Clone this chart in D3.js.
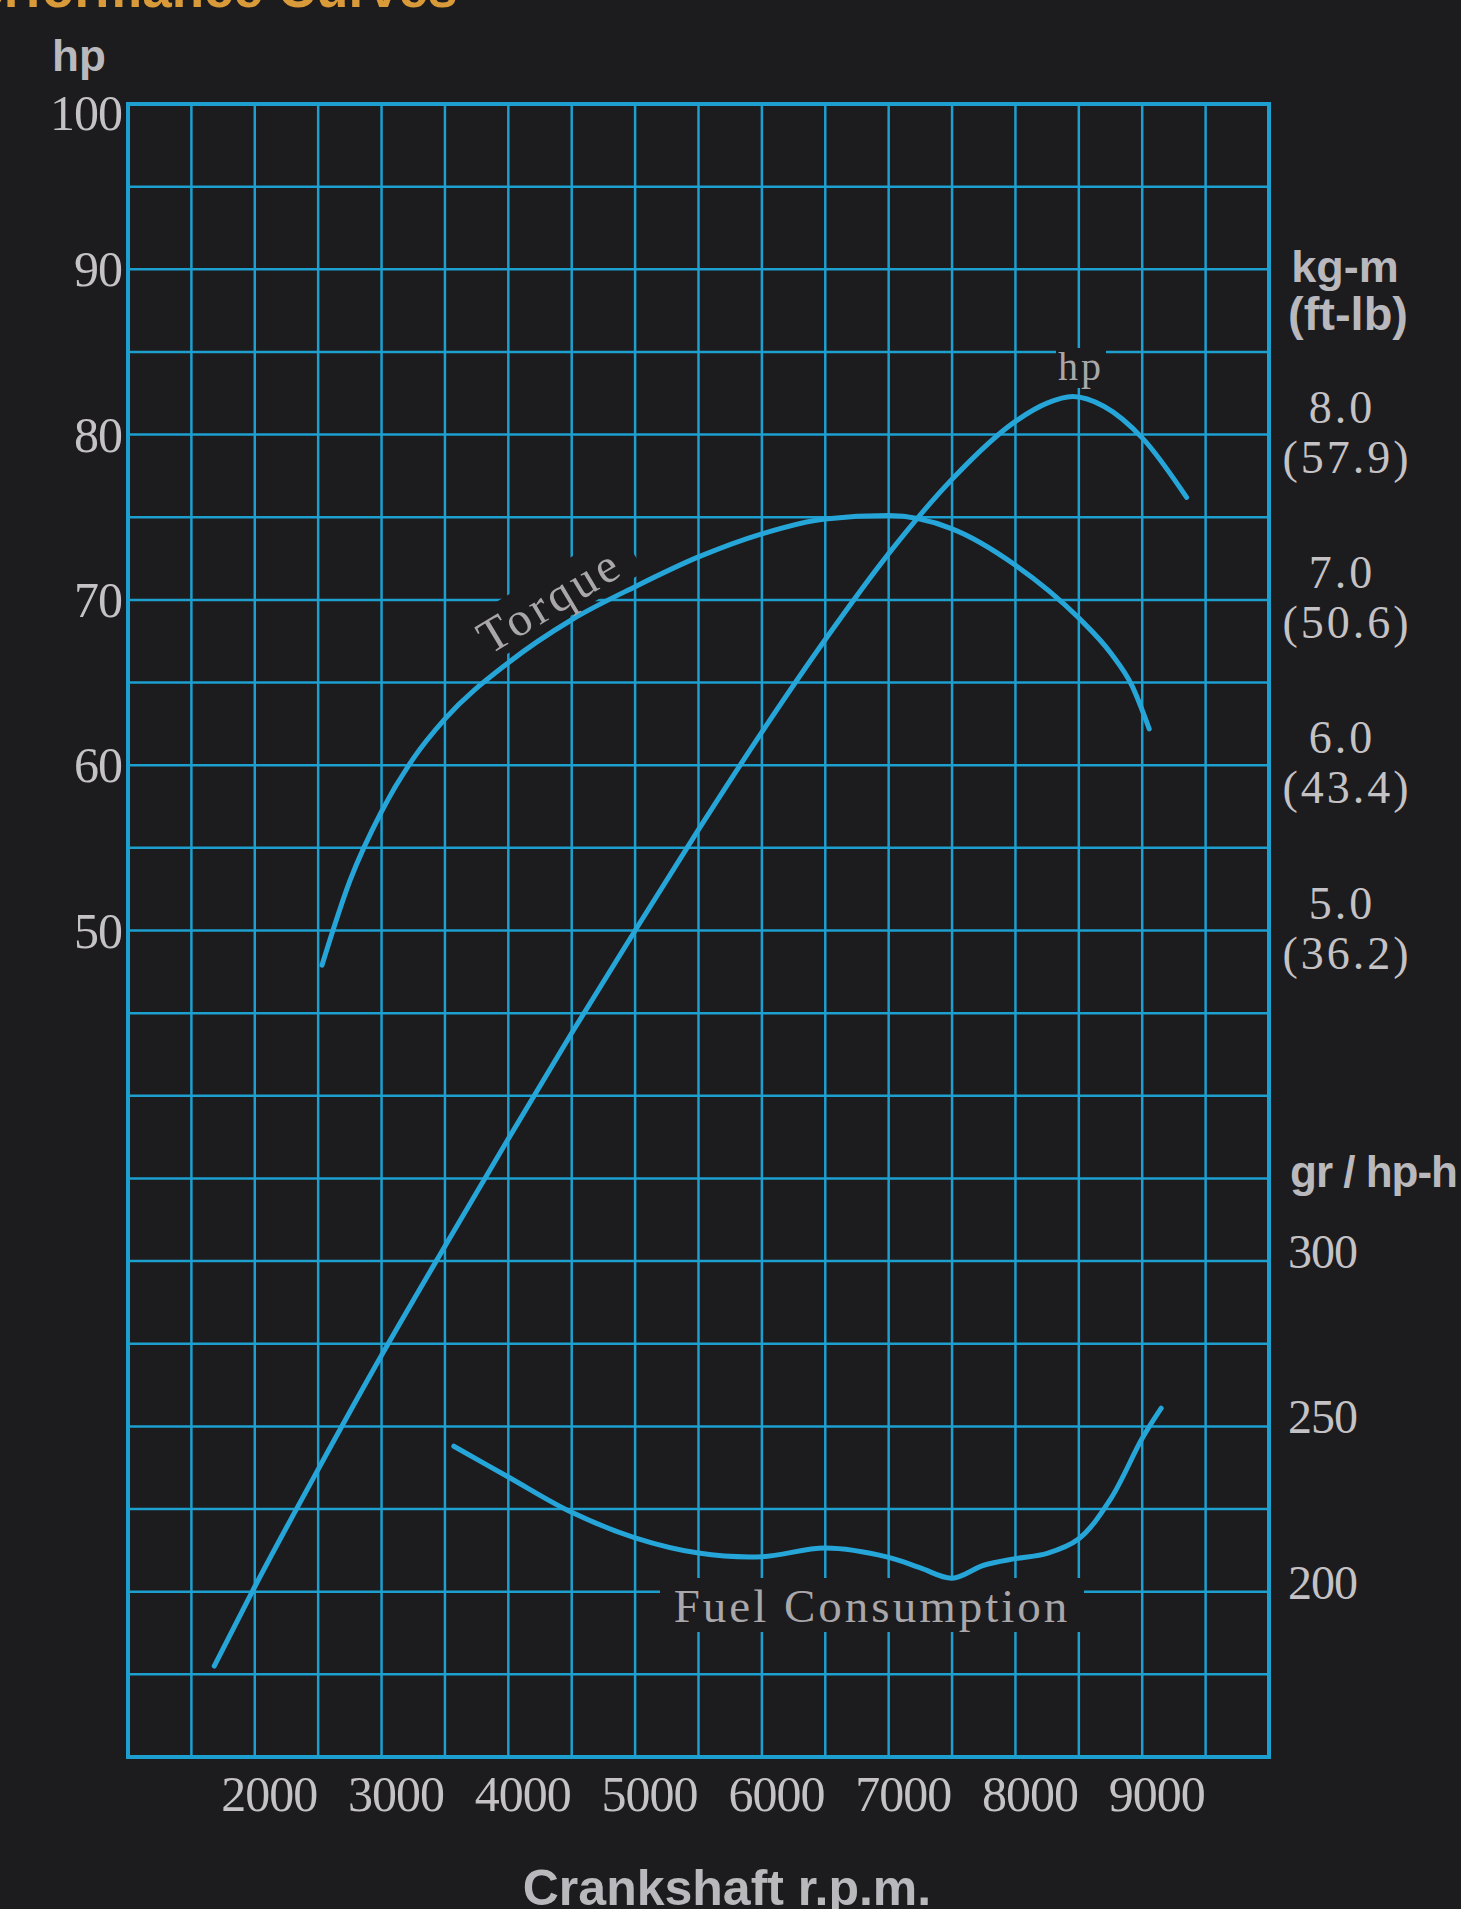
<!DOCTYPE html>
<html>
<head>
<meta charset="utf-8">
<script src="https://cdn.jsdelivr.net/npm/d3@7"></script>
<style>
  html, body { margin: 0; padding: 0; background: #1c1b1d; }
  svg { display: block; }
</style>
</head>
<body>
<div id="chart"></div>
<script>
// values
const rpmTicks = [2000, 3000, 4000, 5000, 6000, 7000, 8000, 9000];
const hpTicks = [50, 60, 70, 80, 90, 100];
const torqueTicks = [5, 6, 7, 8];
const torqueFtLb = ["36.2", "43.4", "50.6", "57.9"];
const fuelTicks = [200, 250, 300];

const hpRpm = [1680, 2000, 2500, 3000, 3500, 4000, 4500, 5000, 5500, 6000, 6500, 7000, 7500, 8000, 8250, 8450, 8700, 9000, 9350];
const hpVal = [5.5, 10.3, 17.4, 24.3, 30.9, 37.4, 43.8, 50.0, 56.1, 62.0, 67.6, 72.8, 77.3, 80.8, 81.9, 82.3, 81.7, 79.8, 76.2];

const torqueRpm = [2530, 2750, 3000, 3250, 3500, 4000, 4500, 5000, 5500, 6000, 6500, 7000, 7500, 8000, 8500, 8750, 8920, 9055];
const torqueVal = [4.79, 5.30, 5.72, 6.04, 6.28, 6.62, 6.88, 7.08, 7.26, 7.40, 7.49, 7.51, 7.43, 7.21, 6.89, 6.68, 6.48, 6.22];

const fuelRpm = [3570, 4000, 4500, 5000, 5500, 6000, 6500, 7000, 7250, 7500, 7750, 8000, 8250, 8500, 8750, 9000, 9150];
const fuelVal = [244, 234.7, 224, 216.3, 211.7, 210.6, 213.2, 210.4, 207.2, 204.1, 208.0, 210.0, 211.6, 216, 228, 246.4, 255.5];

const width = 1461, height = 1909;
const bg = "#1c1b1d", gridColor = "#1d9fcf", curveColor = "#26a6d8";
const textGrey = "#c4c2c5", labelGrey = "#a9a7aa";
const serif = "'Liberation Serif', 'DejaVu Serif', serif";
const sans = "'Liberation Sans', Arial, sans-serif";

var plot = { left: 128, right: 1269, top: 104, bottom: 1757 };

var svg = d3
  .select("#chart")
  .append("svg")
  .attr("width", width)
  .attr("height", height);

svg.append("rect").attr("width", width).attr("height", height).attr("fill", bg);

var x = d3.scaleLinear().domain([1000, 10000]).range([plot.left, plot.right]);
var yHp = d3.scaleLinear().domain([0, 100]).range([plot.bottom, plot.top]);
var yTorque = d3.scaleLinear().domain([0, 10]).range([plot.bottom, plot.top]);
var yFuel = d3.scaleLinear().domain([150, 650]).range([plot.bottom, plot.top]);

// grid
var grid = svg.append("g").attr("stroke", gridColor).attr("stroke-width", 2.5);
grid
  .selectAll("line.v")
  .data(d3.range(1000, 10001, 500))
  .enter()
  .append("line")
  .attr("class", "v")
  .attr("x1", (d) => x(d))
  .attr("x2", (d) => x(d))
  .attr("y1", plot.top)
  .attr("y2", plot.bottom);
grid
  .selectAll("line.h")
  .data(d3.range(0, 101, 5))
  .enter()
  .append("line")
  .attr("class", "h")
  .attr("x1", plot.left)
  .attr("x2", plot.right)
  .attr("y1", (d) => yHp(d))
  .attr("y2", (d) => yHp(d));
svg
  .append("rect")
  .attr("x", plot.left)
  .attr("y", plot.top)
  .attr("width", plot.right - plot.left)
  .attr("height", plot.bottom - plot.top)
  .attr("fill", "none")
  .attr("stroke", gridColor)
  .attr("stroke-width", 4);

// label masks over the grid
var torqueLabel = { x: 558, y: 614, angle: -31 };
svg
  .append("rect")
  .attr("x", -96)
  .attr("y", -42)
  .attr("width", 192)
  .attr("height", 50)
  .attr("fill", bg)
  .attr("transform", `translate(${torqueLabel.x},${torqueLabel.y}) rotate(${torqueLabel.angle})`);
svg.append("rect").attr("x", 660).attr("y", 1578).attr("width", 424).attr("height", 54).attr("fill", bg);
svg.append("rect").attr("x", 1056).attr("y", 348).attr("width", 50).attr("height", 40).attr("fill", bg);

// curves
var hpLine = d3.line().x((d, i) => x(hpRpm[i])).y((d) => yHp(d)).curve(d3.curveMonotoneX);
var torqueLine = d3.line().x((d, i) => x(torqueRpm[i])).y((d) => yTorque(d)).curve(d3.curveMonotoneX);
var fuelLine = d3.line().x((d, i) => x(fuelRpm[i])).y((d) => yFuel(d)).curve(d3.curveCatmullRom.alpha(0.5));

var curves = svg
  .append("g")
  .attr("fill", "none")
  .attr("stroke", curveColor)
  .attr("stroke-width", 5)
  .attr("stroke-linecap", "round")
  .attr("stroke-linejoin", "round");
curves.append("path").attr("d", hpLine(hpVal));
curves.append("path").attr("d", torqueLine(torqueVal));
curves.append("path").attr("d", fuelLine(fuelVal));

// curve labels
svg
  .append("text")
  .attr("transform", `translate(${torqueLabel.x},${torqueLabel.y}) rotate(${torqueLabel.angle})`)
  .attr("text-anchor", "middle")
  .attr("font-family", serif)
  .attr("font-size", 48)
  .attr("letter-spacing", 4)
  .attr("fill", labelGrey)
  .text("Torque");
svg
  .append("text")
  .attr("x", 872)
  .attr("y", 1622)
  .attr("text-anchor", "middle")
  .attr("font-family", serif)
  .attr("font-size", 47)
  .attr("letter-spacing", 3)
  .attr("fill", labelGrey)
  .text("Fuel Consumption");
svg
  .append("text")
  .attr("x", 1081)
  .attr("y", 380)
  .attr("text-anchor", "middle")
  .attr("font-family", serif)
  .attr("font-size", 40)
  .attr("letter-spacing", 3)
  .attr("fill", labelGrey)
  .text("hp");

// bottom axis
var xAxis = svg
  .append("g")
  .attr("transform", "translate(0," + plot.bottom + ")")
  .call(d3.axisBottom(x).tickValues(rpmTicks).tickFormat(d3.format("d")).tickSize(0).tickPadding(18));
xAxis.select(".domain").remove();
xAxis
  .selectAll("text")
  .attr("dx", 14)
  .attr("font-family", serif)
  .attr("font-size", 50)
  .attr("letter-spacing", -1)
  .attr("fill", textGrey);

// left axis
var yAxis = svg
  .append("g")
  .attr("transform", "translate(" + plot.left + ",0)")
  .call(d3.axisLeft(yHp).tickValues(hpTicks).tickSize(0).tickPadding(6));
yAxis.select(".domain").remove();
yAxis
  .selectAll("text")
  .attr("dy", (d) => (d === 100 ? "0.5em" : "0.33em"))
  .attr("font-family", serif)
  .attr("font-size", 50)
  .attr("letter-spacing", -1)
  .attr("fill", textGrey);

// right torque labels
var tq = svg
  .append("g")
  .attr("font-family", serif)
  .attr("font-size", 46)
  .attr("letter-spacing", 3)
  .attr("fill", textGrey)
  .attr("text-anchor", "middle");
tq.selectAll("text.kg")
  .data(torqueTicks)
  .enter()
  .append("text")
  .attr("class", "kg")
  .attr("x", 1342)
  .attr("y", (d) => yTorque(d) - 12)
  .text((d) => d.toFixed(1));
tq.selectAll("text.ft")
  .data(torqueFtLb)
  .enter()
  .append("text")
  .attr("class", "ft")
  .attr("x", 1347)
  .attr("y", (d, i) => yTorque(torqueTicks[i]) + 38)
  .text((d) => "(" + d + ")");

// right fuel labels
svg
  .append("g")
  .selectAll("text")
  .data(fuelTicks)
  .enter()
  .append("text")
  .attr("x", 1288)
  .attr("y", (d) => yFuel(d) + 7)
  .attr("font-family", serif)
  .attr("font-size", 48)
  .attr("letter-spacing", -1)
  .attr("fill", textGrey)
  .text((d) => d);

// axis titles
var titles = svg.append("g").attr("font-family", sans).attr("font-weight", "bold").attr("fill", "#b9b8bc");
titles.append("text").attr("x", 52).attr("y", 71).attr("font-size", 44).text("hp");
titles.append("text").attr("x", 1345).attr("y", 282).attr("font-size", 45).attr("text-anchor", "middle").text("kg-m");
titles.append("text").attr("x", 1348).attr("y", 330).attr("font-size", 47).attr("text-anchor", "middle").text("(ft-lb)");
titles.append("text").attr("x", 1290).attr("y", 1187).attr("font-size", 44).attr("letter-spacing", -1).text("gr / hp-h");
titles.append("text").attr("x", 727).attr("y", 1905).attr("font-size", 50).attr("text-anchor", "middle").text("Crankshaft r.p.m.");

// page title, mostly cut off at the top edge
svg
  .append("text")
  .attr("x", -61)
  .attr("y", 7)
  .attr("font-family", sans)
  .attr("font-weight", "bold")
  .attr("font-size", 53)
  .attr("fill", "#d99a3a")
  .text("Performance Curves");
</script>
</body>
</html>
